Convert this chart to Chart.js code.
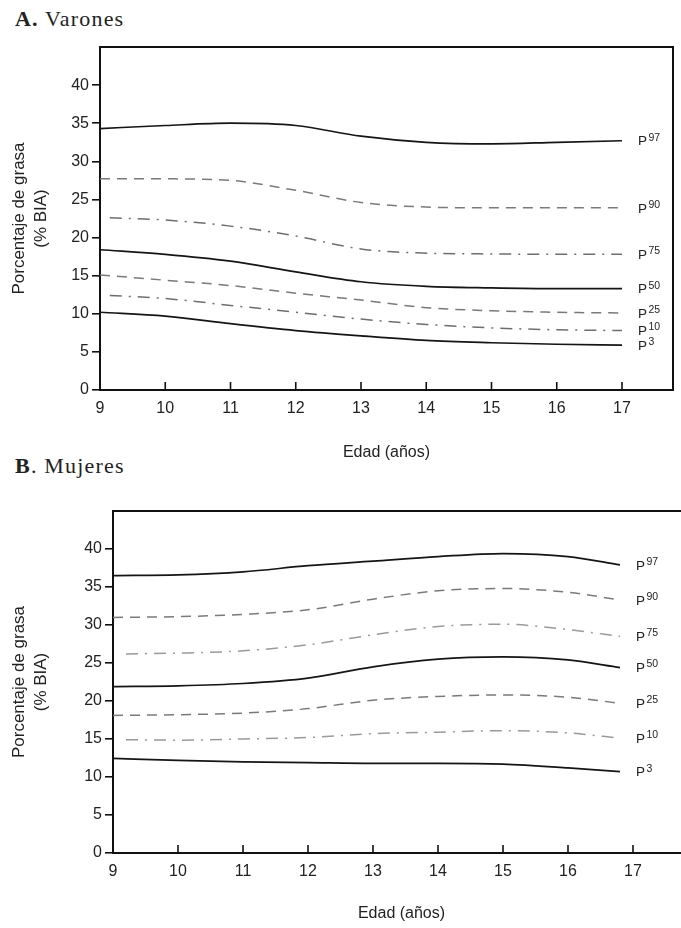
<!DOCTYPE html>
<html><head><meta charset="utf-8">
<script src="https://cdn.jsdelivr.net/npm/chart.js@4/dist/chart.umd.min.js"></script>
<style>
html,body{margin:0;padding:0;background:#fff;overflow:hidden;width:681px;height:928px;}
.ttl{position:absolute;left:15px;font-family:"Liberation Serif",serif;font-size:22px;line-height:22px;letter-spacing:1.2px;color:#222;white-space:nowrap;}
#c1{position:absolute;left:0;top:0;}
#c2{position:absolute;left:0;top:465px;}
</style></head><body>
<div class="ttl" style="top:8px"><b>A.</b> Varones</div>
<div class="ttl" style="top:455px"><b>B</b>. Mujeres</div>
<canvas id="c1" width="681" height="465"></canvas>
<canvas id="c2" width="730" height="463"></canvas>
<script>
// ---- data ----
const percentiles = ['97','90','75','50','25','10','3'];
const yTicks = [0,5,10,15,20,25,30,35,40];
const xTicks = [9,10,11,12,13,14,15,16,17];

// A. Varones
const agesA   = [9,10,11,12,13,14,15,16,17];
const agesA_dd = [9.15,10,11,12,13,14,15,16,17];
const varP97 = [34.3,34.7,35.0,34.7,33.3,32.5,32.3,32.5,32.7];
const varP90 = [27.7,27.7,27.5,26.2,24.6,24.0,23.9,23.9,23.9];
const varP75 = [22.6,22.3,21.5,20.2,18.5,17.95,17.85,17.8,17.8];
const varP50 = [18.4,17.8,16.9,15.5,14.2,13.6,13.4,13.3,13.3];
const varP25 = [15.1,14.4,13.7,12.7,11.8,10.8,10.4,10.2,10.1];
const varP10 = [12.4,12.0,11.1,10.2,9.3,8.6,8.15,7.9,7.8];
const varP3  = [10.2,9.7,8.7,7.8,7.1,6.5,6.2,6.0,5.9];

// B. Mujeres
const agesB   = [9,10,11,12,13,14,15,16,16.8];
const agesB_dd = [9.2,10,11,12,13,14,15,16,16.8];
const mujP97 = [36.5,36.6,37.0,37.8,38.4,39.0,39.4,39.0,37.9];
const mujP90 = [31.0,31.1,31.4,32.0,33.4,34.5,34.8,34.3,33.3];
const mujP75 = [26.2,26.3,26.6,27.4,28.7,29.8,30.1,29.4,28.5];
const mujP50 = [21.9,22.0,22.3,23.0,24.5,25.5,25.8,25.4,24.4];
const mujP25 = [18.1,18.2,18.4,19.0,20.1,20.6,20.8,20.5,19.7];
const mujP10 = [14.9,14.85,15.0,15.2,15.7,15.9,16.1,15.8,15.1];
const mujP3  = [12.45,12.2,12.0,11.9,11.8,11.8,11.7,11.2,10.7];

const FONT = '"Liberation Sans", Arial, sans-serif';

function pts(xs, ys){ return xs.map((x,i)=>({x:x,y:ys[i]})); }

function styleFor(kind, light){
  if (kind==='solid') return {borderColor:'#151515', borderWidth:1.7, borderDash:[]};
  if (kind==='dash') return {borderColor:'#7a7a7a', borderWidth:1.5, borderDash:[10,7]};
  return {borderColor: light?'#9a9a9a':'#6e6e6e', borderWidth:1.5, borderDash:[12,7,2,7]};
}

function makeDatasets(ages, agesDD, series, light){
  const kinds = ['solid','dash','dd','solid','dash','dd','solid'];
  return series.map((s,i)=>Object.assign({
    label:'P'+percentiles[i],
    data: pts(kinds[i]==='dd'?agesDD:ages, s),
    pctl: percentiles[i],
    fill:false, pointRadius:0, tension:0.4, cubicInterpolationMode:'monotone'
  }, styleFor(kinds[i], light)));
}

const decoPlugin = {
  id:'deco',
  afterDraw(chart){
    const {ctx, chartArea:a, scales} = chart;
    ctx.save();
    // top and right border
    ctx.strokeStyle='#111'; ctx.lineWidth=2;
    ctx.beginPath();
    ctx.moveTo(a.left, a.top); ctx.lineTo(a.right, a.top); ctx.lineTo(a.right, a.bottom);
    ctx.stroke();
    // inward x ticks
    ctx.lineWidth=1.6;
    scales.x.ticks.forEach(t=>{
      if (t.value===xTicks[0]) return;
      const px = scales.x.getPixelForValue(t.value);
      ctx.beginPath(); ctx.moveTo(px, a.bottom); ctx.lineTo(px, a.bottom-8); ctx.stroke();
    });
    // percentile labels
    ctx.fillStyle='#222'; ctx.textBaseline='middle'; ctx.textAlign='left';
    chart.data.datasets.forEach((ds,i)=>{
      const meta = chart.getDatasetMeta(i);
      const last = meta.data[meta.data.length-1];
      const x = last.x + 16, y = last.y + 1;
      ctx.font = '13.5px '+FONT;
      ctx.fillText('P', x, y);
      const w = ctx.measureText('P').width;
      ctx.font = '10.5px '+FONT;
      ctx.fillText(ds.pctl, x + w + 1.5, y - 4);
    });
    ctx.restore();
  }
};

function makeChart(id, datasets, opts){
  return new Chart(document.getElementById(id), {
    type:'line',
    data:{datasets},
    plugins:[decoPlugin],
    options:{
      responsive:false, animation:false, events:[],
      layout:{padding:{top:opts.top, right:opts.right, left:0, bottom:0}},
      plugins:{legend:{display:false}, tooltip:{enabled:false}},
      scales:{
        x:{
          type:'linear', min:9, max:opts.xMax,
          afterBuildTicks(s){ s.ticks = xTicks.map(v=>({value:v})); },
          afterFit(s){ s.height = 75; },
          ticks:{stepSize:1, includeBounds:false, autoSkip:false, maxRotation:0, padding:9,
                 color:'#222', font:{family:FONT, size:16}},
          grid:{display:true, drawOnChartArea:false, drawTicks:false},
          border:{display:true, color:'#111', width:2},
          title:{display:true, text:'Edad (años)', color:'#222', font:{family:FONT, size:16},
                 padding:{top:0, bottom:opts.xTitlePad}}
        },
        y:{
          type:'linear', min:0, max:45,
          afterBuildTicks(s){ s.ticks = yTicks.map(v=>({value:v})); },
          afterFit(s){ s.width = opts.yWidth; },
          ticks:{stepSize:5, padding:3, color:'#222', font:{family:FONT, size:16}},
          grid:{display:true, drawOnChartArea:false, drawTicks:true, tickLength:8, color:'#111', lineWidth:1.6},
          border:{display:true, color:'#111', width:2},
          title:{display:true, text:['Porcentaje de grasa','(% BIA)'], color:'#222',
                 font:{family:FONT, size:17, lineHeight:1.3}, padding:{top:8, bottom:0}}
        }
      }
    }
  });
}

makeChart('c1', makeDatasets(agesA, agesA_dd, [varP97,varP90,varP75,varP50,varP25,varP10,varP3], false),
  {top:47, right:8, xMax:9+(573/65.25), yWidth:100, xTitlePad:3});
makeChart('c2', makeDatasets(agesB, agesB_dd, [mujP97,mujP90,mujP75,mujP50,mujP25,mujP10,mujP3], true),
  {top:46, right:40, xMax:9+(577/65), yWidth:113, xTitlePad:5});
</script>
</body></html>
